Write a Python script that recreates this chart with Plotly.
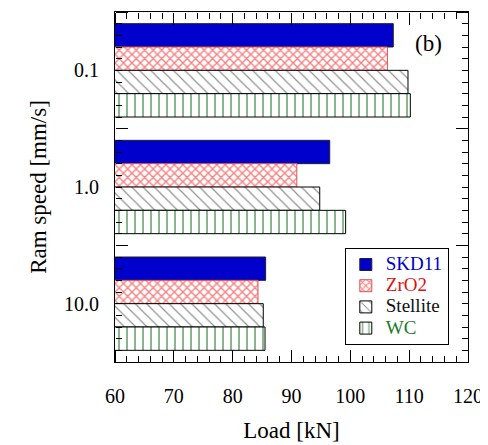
import plotly.graph_objects as go

# ram speeds (mm/s) shown as categories, top to bottom
speeds = ["0.1", "1.0", "10.0"]

# load [kN] per die material
skd11 = [107.3, 96.5, 85.6]
zro2 = [106.3, 90.9, 84.3]
stellite = [109.8, 94.8, 85.2]
wc = [110.2, 99.2, 85.5]

font_family = "Liberation Serif"
pos = list(range(len(speeds)))
bounds = [p - 0.5 for p in pos] + [pos[-1] + 0.5]
x_range = [60, 120]
y_range = [pos[-1] + 0.5, pos[0] - 0.5]

series = [
    ("SKD11", skd11, "#0000CC", None, "#222222"),
    ("ZrO2", zro2, "#E01010", dict(shape="x", fgcolor="#F00000", bgcolor="white", size=6, solidity=0.4), "#E05050"),
    ("Stellite", stellite, "#111111", dict(shape="\\", fgcolor="#222222", bgcolor="white", size=8, solidity=0.15), "#000000"),
    ("WC", wc, "#1B7A2A", dict(shape="|", fgcolor="#11701F", bgcolor="white", size=8, solidity=0.25), "#000000"),
]

fig = go.Figure()

for name, vals, col, pat, edge in series:
    marker = dict(color=col if pat is None else "white",
                  line=dict(color=edge, width=1))
    if pat is not None:
        marker["pattern"] = pat
    fig.add_trace(go.Bar(
        y=pos,
        x=vals,
        orientation="h",
        name=f'<span style="color:{col};font-size:19px">{name}</span>',
        marker=marker,
    ))

# empty traces so the tick-only overlay axes get drawn
for xa, ya in [("x2", "y2"), ("x3", "y3")]:
    fig.add_trace(go.Scatter(x=skd11, y=pos, mode="none", showlegend=False,
                             hoverinfo="skip", xaxis=xa, yaxis=ya))

# ticks pointing into the plot: outside ticks of axes placed on the opposite edge
tick_x = dict(
    range=x_range, overlaying="x", anchor="free",
    tickmode="linear", tick0=60, dtick=10,
    ticks="outside", ticklen=12, tickcolor="black", tickwidth=1,
    minor=dict(dtick=2, ticklen=6, ticks="outside", tickcolor="black", tickwidth=1),
    showticklabels=False, showline=False, showgrid=False, zeroline=False,
)
tick_y = dict(
    range=y_range, overlaying="y", anchor="free",
    tickmode="array", tickvals=bounds,
    ticks="outside", ticklen=12, tickcolor="black", tickwidth=1,
    minor=dict(tick0=-0.5, dtick=0.1, ticklen=6, ticks="outside", tickcolor="black", tickwidth=1),
    showticklabels=False, showline=False, showgrid=False, zeroline=False,
)

fig.update_layout(
    template="simple_white",
    width=480,
    height=437,
    margin=dict(l=107, r=20, t=4, b=83),
    paper_bgcolor="white",
    plot_bgcolor="white",
    font=dict(family=font_family, size=20, color="black"),
    barmode="group",
    bargap=0.2,
    bargroupgap=0,
    showlegend=True,
    legend=dict(
        x=0.651, y=0.326, xanchor="left", yanchor="top",
        bordercolor="black", borderwidth=1, bgcolor="white",
        font=dict(family=font_family, size=14),
        tracegroupgap=0,
    ),
    xaxis=dict(
        range=x_range,
        tickmode="linear", tick0=60, dtick=10, ticks="",
        showline=True, linecolor="black", linewidth=1, mirror=True,
        showgrid=False, zeroline=False, automargin=False,
        ticklabelstandoff=16,
        title=dict(text="Load [kN]", font=dict(family=font_family, size=23), standoff=15),
    ),
    yaxis=dict(
        range=y_range,
        tickmode="array", tickvals=pos, ticktext=speeds, ticks="",
        showline=True, linecolor="black", linewidth=1, mirror=True,
        showgrid=False, zeroline=False, automargin=False,
        ticklabelstandoff=11,
        title=dict(text="Ram speed [mm/s]", font=dict(family=font_family, size=23), standoff=10),
    ),
    xaxis2=dict(tick_x, side="top", position=0),
    xaxis3=dict(tick_x, side="bottom", position=1),
    yaxis2=dict(tick_y, side="right", position=0),
    yaxis3=dict(tick_y, side="left", position=1),
    annotations=[dict(
        text="(b)", xref="paper", yref="paper", x=0.889, y=0.911,
        xanchor="center", yanchor="middle",
        showarrow=False, font=dict(family=font_family, size=23),
    )],
)

fig.write_html("out.html")
